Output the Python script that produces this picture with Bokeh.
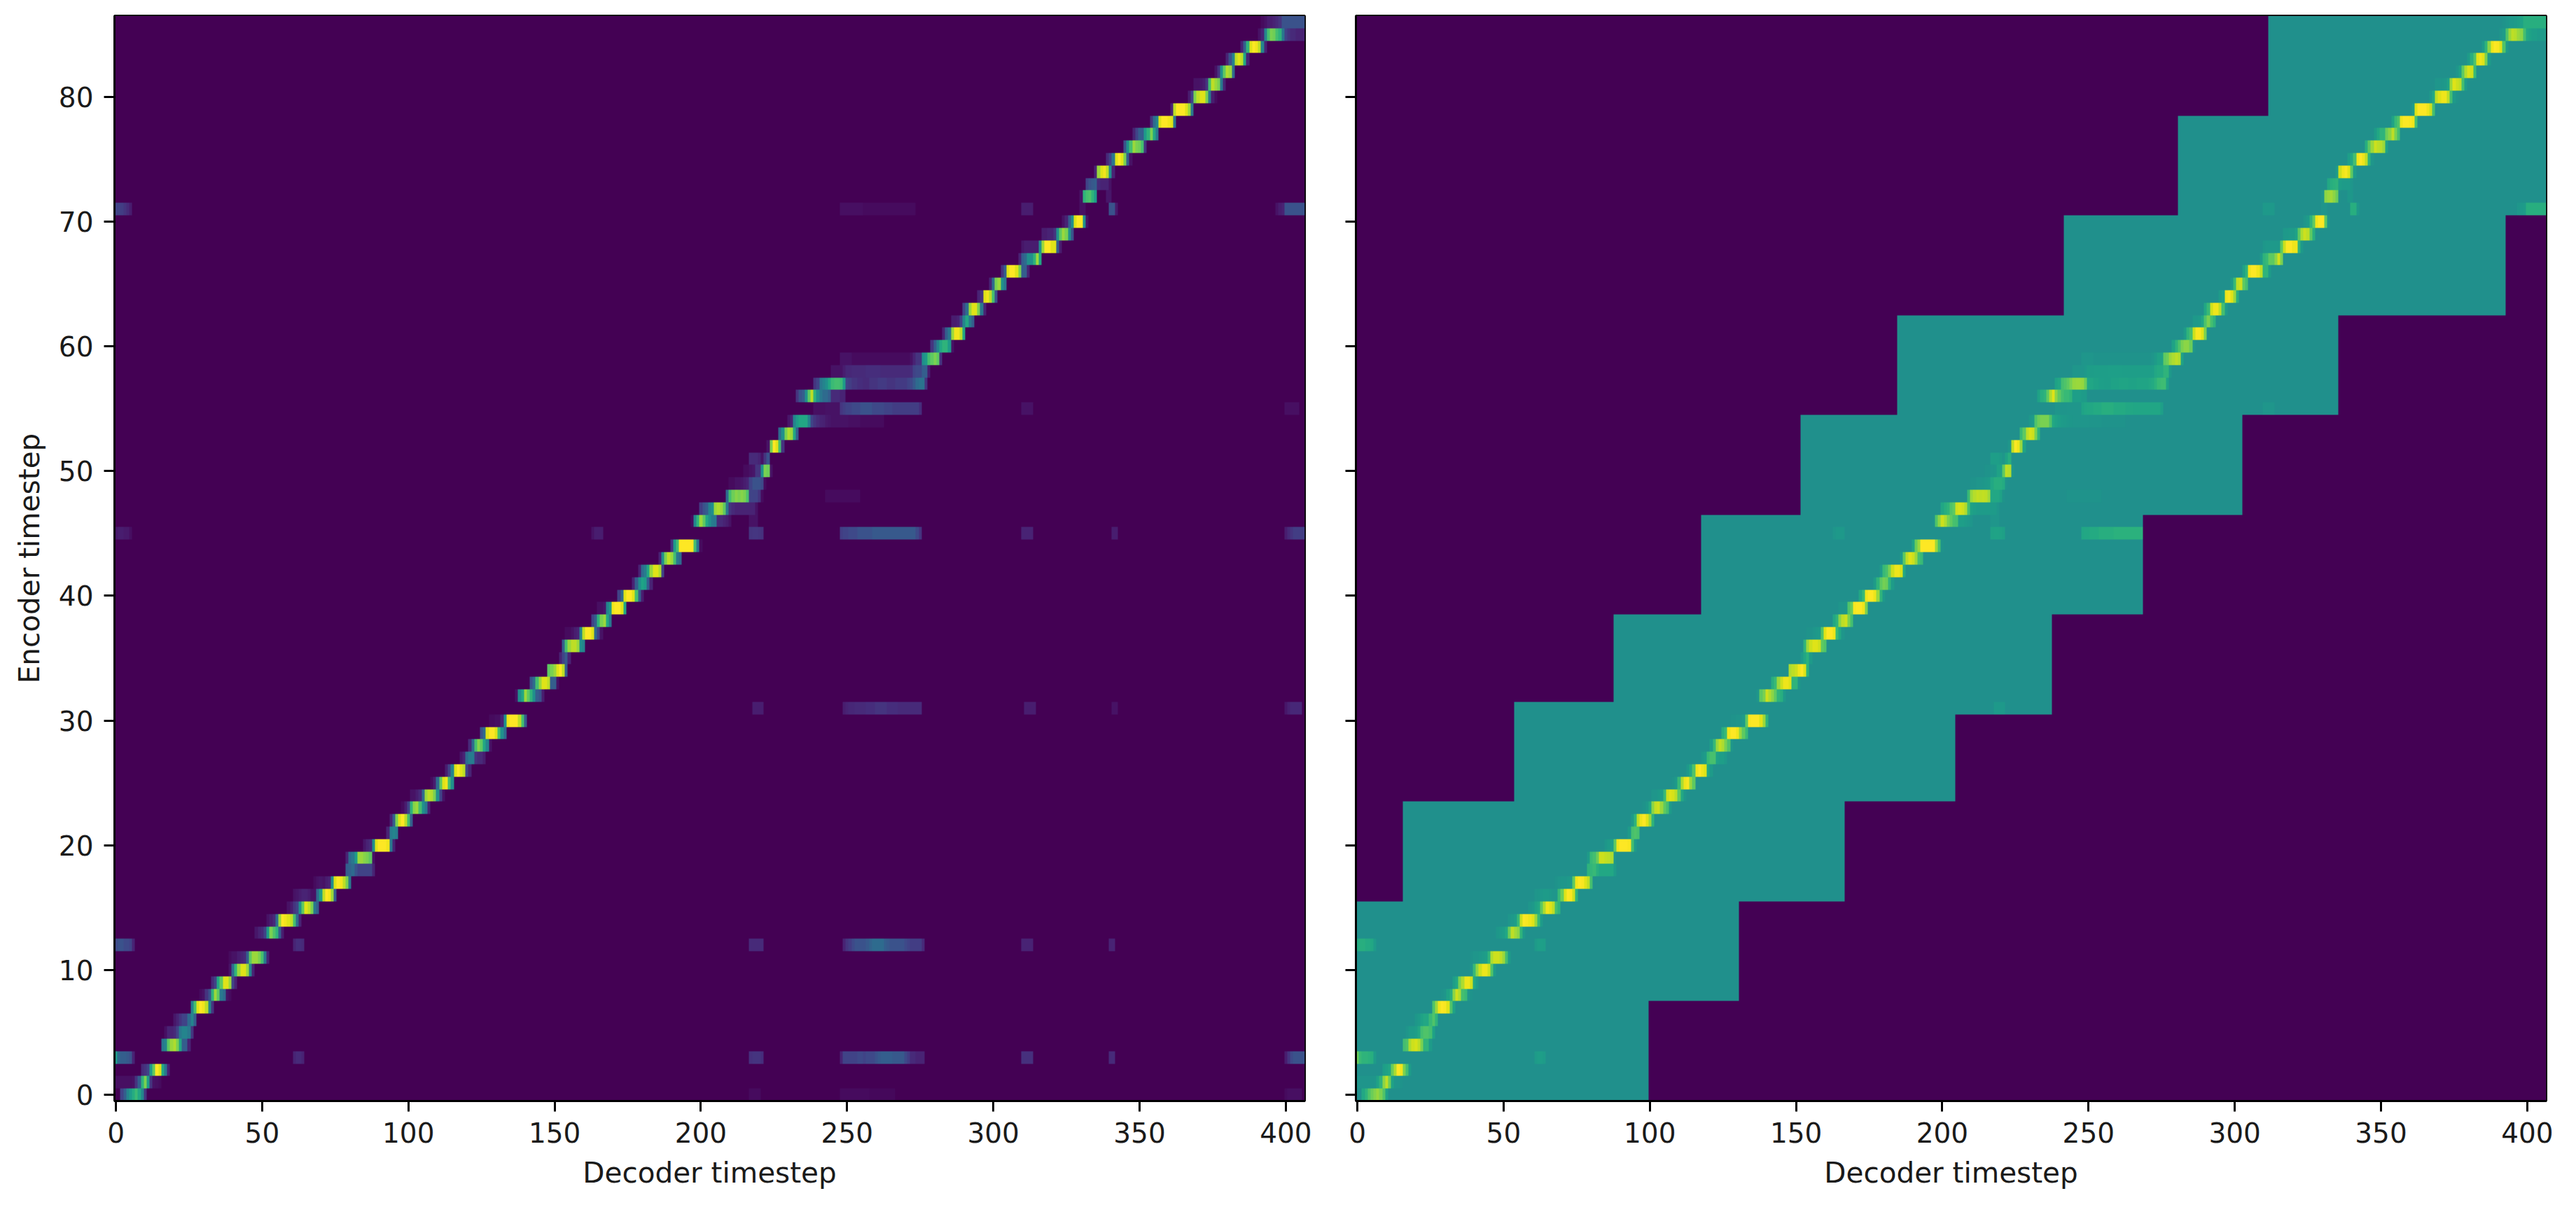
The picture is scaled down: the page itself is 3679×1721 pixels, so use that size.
import numpy as np
from bokeh.embed import file_html
from bokeh.layouts import row
from bokeh.models import LinearColorMapper, Range1d, FixedTicker
from bokeh.palettes import Viridis256
from bokeh.plotting import figure
from bokeh.resources import INLINE

x_axis_label_text = "Decoder timestep"
y_axis_label_text = "Encoder timestep"
x_ticks = [0, 50, 100, 150, 200, 250, 300, 350, 400]
y_ticks = [0, 10, 20, 30, 40, 50, 60, 70, 80]
decoder_steps = 407
encoder_steps = 87

# Attention path: encoder row, first decoder cell, attention weights read cell by cell
path_rows = list(range(0, 3)) + list(range(4, 12)) + list(range(13, 31)) + list(range(32, 45)) + list(range(46, 55)) + list(range(56, 71)) + list(range(72, 87))
path_starts = [2, 0, 9,
    16, 17, 20, 26, 29, 33, 39, 39,
    48, 52, 59, 61, 68, 79, 79, 85, 93, 94, 98, 101, 108, 113, 118, 121, 125, 128,
    137, 142, 148, 152, 153, 154, 163, 165, 172, 177, 179, 186, 190,
    197, 200, 209, 210, 215, 217, 223, 227, 230,
    233, 239, 245, 248, 279, 283, 286, 290, 295, 299, 303, 309, 310, 317, 324,
    330, 332, 335, 339, 345, 348, 354, 361, 367, 369, 376, 380, 385, 391, 392]
path_values = [
    [.2,.3,.45,.55,.62,.68,.6,.45,.15],
    [.04,.04,.04,.04,.04,.04,.05,.15,.3,.65,.8,.55,.15,.05,.04,.03],
    [.12,.15,.2,.55,.75,1,.95,.6,.4,.1],
    [.4,.45,.75,.85,.88,.8,.6,.3,.3,.1],
    [.04,.1,.1,.12,.2,.4,.45,.45,.4,.15],
    [.06,.1,.15,.2,.2,.35,.45,.3],
    [.45,.7,.95,1,.98,.9,.45,.15],
    [.03,.05,.15,.25,.65,.85,.75,.4,.35,.05,.03],
    [.12,.2,.6,.75,.95,.95,.85,.2,.1],
    [.05,.35,.65,.85,.95,.95,.85,.45,.1],
    [.03,.05,.05,.08,.1,.12,.3,.75,.85,.85,.8,.7,.4,.1],
    [.06,.1,.12,.2,.55,.8,.72,.65,.3,.08],
    [.05,.08,.12,.35,.85,1,.98,.95,.9,.7,.35,.1],
    [.05,.08,.15,.2,.5,.75,.95,.9,.8,.4,.3],
    [.05,.06,.08,.1,.1,.08,.05,.05,.35,.55,.9,1,.98,.85,.3],
    [.03,.05,.06,.05,.08,.1,.5,.95,1,.98,.9,.8,.4],
    [.3,.32,.35,.25,.2,.2,.2,.2,.2,.1],
    [.1,.35,.4,.55,.85,.85,.82,.8,.75,.05],
    [.06,.1,.12,.5,.95,1,1,1,.98,.4,.1],
    [.1,.42,.45,.42],
    [.1,.3,.8,.95,1,.9,.7,.3],
    [.03,.08,.2,.65,.82,.85,.7,.5,.4,.1],
    [.05,.05,.08,.12,.35,.85,.9,.88,.8,.5,.2,.05],
    [.03,.08,.35,.75,.95,.98,.7,.5],
    [.08,.2,.45,.95,1,.95,.9,.2,.1],
    [.06,.1,.35,.42,.42,.15,.12,.12,.08],
    [.12,.35,.7,.82,.75,.6,.45,.05],
    [.25,.35,.95,1,1,.95,.7,.5,.35],
    [.03,.03,.04,.04,.1,.5,.98,1,1,1,.9,.7,.3],
    [.05,.5,.6,.85,.75,.65,.5,.3,.25,.08],
    [.25,.35,.7,.85,.95,.95,.9,.3,.3,.05],
    [.75,.8,.85,.95,1,.9,.3],
    [.1,.2,.28,.1],
    [.3,.7,.85,.9,.9,.85,.5,.45],
    [.03,.03,.05,.08,.1,.45,.9,1,1,.95,.35,.2,.05],
    [.2,.3,.65,.8,.85,.6,.4],
    [.04,.04,.06,.45,.55,.98,1,1,.95,.6],
    [.2,.35,.95,1,1,.95,.7,.3,.08],
    [.1,.3,.5,.58,.55,.3,.1],
    [.1,.35,.42,.6,.85,.95,.95,.88,.2],
    [.1,.5,.8,.9,.85,.7,.4,.35],
    [.15,.55,.7,1,1,1,1,1,.7,.4,.03],
    [.03,.45,.65,.85,.75,.6,.5,.42,.4,.12,.12,.1,.08,.05],
    [.18,.25,.3,.45,.5,.85,.88,.85,.75,.4,.15,.12,.1,.1,.1,.1,.1,.1,.1,.05],
    [.35,.7,.78,.82,.8,.82,.8,.72,.2,.2,.2,.15,.03],
    [.03,.03,.05,.05,.06,.08,.1,.2,.25,.25,.25,.22,.03],
    [.03,.03,.05,.06,.15,.15,.5,.8,.78,.05],
    [.12,.12,.12,.1,.05,.15,.25],
    [.05,.8,1,.95,.7,.15],
    [.35,.5,.8,.88,.85,.6,.3],
    [.06,.1,.45,.55,.6,.6,.6,.45,.2,.15,.12,.1,.09,.07,.06,.05,.05,.05,.05,.05,.05,.04,.04,.04,.04,.03,.03,.03,.03,.03,.03,.03,.03],
    [.15,.25,.3,.5,.75,.9,.65,.5,.4,.35,.35,.3,.12,.12,.12,.1,.1],
    [.15,.2,.4,.45,.5,.6,.68,.7,.7,.68,.55,.2,.18,.15,.15,.13,.13,.12,.12,.15,.15,.15,.17,.17,.17,.15,.15,.15,.17,.17,.17,.17,.2,.22,.28,.35,.38,.38,.15],
    [.05,.05,.05,.05,.08,.11,.11,.12,.12,.12,.12,.12,.13,.13,.13,.13,.13,.12,.12,.12,.12,.12,.12,.12,.12,.12,.12,.13,.2,.22,.22,.3,.3,.08],
    [.05,.05,.05,.05,.03,.03,.03,.03,.03,.03,.03,.03,.03,.03,.03,.03,.03,.03,.03,.03,.03,.03,.03,.03,.05,.1,.15,.15,.5,.55,.7,.75,.8,.75,.15],
    [.15,.3,.45,.6,.65,.65,.55,.05],
    [.1,.3,.4,.85,.98,.98,.9,.6],
    [.08,.08,.1,.2,.45,.6,.4,.3],
    [.2,.35,.85,.95,.95,.8,.4,.1],
    [.1,.15,.95,.98,.9,.7,.25],
    [.1,.35,.8,.85,.5,.4],
    [.15,.3,.95,1,1,.95,.8,.3,.3,.1],
    [.1,.3,.35,.5,.5,.65,.85,.6],
    [.06,.08,.08,.08,.08,.08,.5,.85,1,1,.95,.95,.3,.08],
    [.08,.08,.1,.1,.15,.5,.75,.85,.8,.5,.25],
    [.05,.1,.3,.5,.95,1,1,.5,.05],
    [.05,.65,.7,.72,.65,.55],
    [.2,.25,.28,.3,.12,.1,.1,.1,.05],
    [.1,.85,.95,.98,.9,.5,.1],
    [.12,.2,.4,.95,1,.95,.8,.3,.05],
    [.25,.5,.7,.85,.8,.78,.7,.15],
    [.1,.2,.3,.3,.55,.65,.8,.6,.4],
    [.15,.35,.45,.95,1,1,.98,.95,.4],
    [.1,.9,1,1,1,.95,.85,.4],
    [.08,.2,.8,.9,.95,.95,.8,.4,.08,.03],
    [.05,.05,.06,.08,.15,.7,.9,.85,.8,.4,.1],
    [.05,.15,.5,.75,.88,.85,.35],
    [.1,.25,.45,.9,.95,.9,.6,.1],
    [.1,.3,.65,.95,1,.98,.9,.45,.1],
    [.05,.1,.45,.7,.8,.78,.7,.65,.4,.2,.15,.12,.12,.1,.1,.1],
    [.03,.05,.08,.08,.1,.12,.15,.25,.25,.25,.25,.25,.25,.25,.25],
]

# Stripes of weak attention on the silent encoder rows, plus stray faint patches
stripe_rows = [3, 3, 3, 3, 3, 3, 3,
               12, 12, 12, 12, 12, 12,
               31, 31, 31, 31, 31,
               45, 45, 45, 45, 45, 45, 45,
               55, 55, 55, 55,
               71, 71, 71, 71, 71, 71,
               0, 0, 0, 72, 46, 48]
stripe_starts = [0, 61, 217, 248, 310, 340, 400,
                 0, 61, 217, 249, 310, 340,
                 218, 249, 311, 341, 400,
                 0, 163, 217, 248, 310, 341, 400,
                 239, 248, 310, 400,
                 0, 248, 310, 330, 340, 397,
                 217, 248, 400, 339, 217, 243]
stripe_values = [
    [.55,.35,.3,.3,.28,.25,.1], [.1,.12,.12,.1], [.14,.15,.15,.15,.13],
    [.1,.2,.2,.2,.2,.2,.22,.22,.2,.22,.22,.22,.25,.28,.3,.3,.3,.3,.28,.28,.28,.28,.22,.18,.12,.12,.1,.1,.1], [.14,.14,.14,.14], [.12,.12], [.08,.15,.22,.25,.25,.25,.25],
    [.22,.25,.25,.22,.22,.2,.1], [.1,.13,.13,.12], [.12,.12,.12,.12,.12],
    [.1,.15,.18,.22,.25,.25,.25,.25,.28,.32,.35,.35,.35,.35,.3,.28,.25,.25,.25,.25,.25,.22,.2,.18,.18,.18,.18,.12], [.1,.1,.1,.1], [.1,.1],
    [.08,.08,.08,.08], [.08,.1,.11,.11,.12,.12,.12,.12,.13,.13,.13,.15,.15,.15,.15,.13,.13,.13,.13,.12,.12,.12,.12,.12,.12,.12,.12], [.08,.08,.08,.08], [.05,.05], [.06,.09,.11,.11,.11,.11],
    [.06,.08,.08,.07,.07,.04], [.05,.08,.08,.08], [.15,.16,.16,.15,.14],
    [.18,.2,.2,.22,.22,.22,.25,.25,.25,.25,.25,.28,.28,.28,.28,.28,.28,.28,.28,.28,.28,.28,.28,.28,.28,.28,.22,.15], [.1,.1,.1,.1], [.08,.08], [.08,.12,.15,.18,.18,.18,.18],
    [.04,.04,.04,.04,.05,.05,.05,.05,.05], [.16,.18,.2,.2,.22,.22,.22,.25,.25,.25,.25,.22,.22,.22,.22,.2,.2,.2,.18,.18,.18,.18,.18,.18,.18,.18,.18,.13], [.05,.05,.05,.05], [.04,.04,.04,.04,.04],
    [.2,.2,.18,.15,.12,.08], [.04,.04,.04,.04,.04,.04,.04,.04,.03,.03,.03,.03,.03,.03,.03,.03,.03,.03,.03,.03,.03,.03,.03,.03,.03,.03], [.08,.08,.08,.08], [.04,.04], [.25,.25,.07], [.05,.08,.1,.25,.25,.25,.25,.25,.25,.25],
    [.03,.03,.03,.03], [.03,.03,.03,.03,.03,.03,.03,.03,.03,.03,.02,.02,.02,.02,.02,.02,.02,.02,.02], [.03,.04,.04,.04,.04,.04],
    [.06,.06], [.05,.05,.05], [.03,.03,.03,.03,.03,.03,.03,.03,.03,.03,.03,.03],
]

# Guided-attention window: first decoder cell of each step and its top / bottom encoder row
window_top_from = [0, 16, 54, 88, 118, 152, 185, 242, 281, 312]
window_top_row = [15, 23, 31, 38, 46, 54, 62, 70, 78, 86]
window_bottom_from = [0, 100, 131, 167, 205, 238, 269, 303, 336, 393]
window_bottom_row = [0, 8, 16, 24, 31, 39, 47, 55, 63, 71]


def attention_matrix():
    m = np.zeros((encoder_steps, decoder_steps))
    for r, s, vals in list(zip(path_rows, path_starts, path_values)) + list(zip(stripe_rows, stripe_starts, stripe_values)):
        for i, v in enumerate(vals):
            if s + i < decoder_steps:
                m[r, s + i] = max(m[r, s + i], v)
    return m


def window_matrix():
    m = np.zeros((encoder_steps, decoder_steps))
    tops = np.array(window_top_row)[np.searchsorted(window_top_from, np.arange(decoder_steps), side="right") - 1]
    bots = np.array(window_bottom_row)[np.searchsorted(window_bottom_from, np.arange(decoder_steps), side="right") - 1]
    for c in range(decoder_steps):
        m[bots[c]:tops[c] + 1, c] = 1
    return m


attention = attention_matrix()
window = window_matrix()
guided = window * (0.5 + 0.5 * attention)

mapper = LinearColorMapper(palette=Viridis256, low=0, high=1)


def panel(matrix, left, right, width, show_y):
    p = figure(
        output_backend="svg", toolbar_location=None,
        frame_width=1700, frame_height=1550, width=width, height=1712,
        x_range=Range1d(-0.5, decoder_steps - 0.5), y_range=Range1d(-0.5, encoder_steps - 0.5),
        min_border_left=left, min_border_right=right, min_border_top=22, min_border_bottom=140,
        background_fill_color="#440154",
    )
    p.image(image=[matrix], x=-0.5, y=-0.5, dw=decoder_steps, dh=encoder_steps, color_mapper=mapper)
    p.grid.visible = False
    p.outline_line_color = "black"
    p.outline_line_width = 3
    for ax in (p.xaxis[0], p.yaxis[0]):
        ax.minor_tick_line_color = None
        ax.major_tick_in = 0
        ax.major_tick_out = 15
        ax.major_tick_line_width = 3
        ax.major_tick_line_color = "black"
        ax.axis_line_width = 3
        ax.axis_line_color = "black"
        ax.major_label_text_font = "DejaVu Sans"
        ax.major_label_text_font_size = "39px"
        ax.major_label_text_color = "#1a1a1a"
        ax.axis_label_text_font = "DejaVu Sans"
        ax.axis_label_text_font_size = "40.5px"
        ax.axis_label_text_font_style = "normal"
        ax.axis_label_text_color = "#1a1a1a"
        ax.major_label_standoff = 15
    p.xaxis[0].ticker = FixedTicker(ticks=x_ticks)
    p.yaxis[0].ticker = FixedTicker(ticks=y_ticks)
    p.xaxis[0].axis_label = x_axis_label_text
    p.xaxis[0].axis_label_standoff = 16
    if show_y:
        p.yaxis[0].axis_label = y_axis_label_text
        p.yaxis[0].axis_label_standoff = 15
    else:
        p.yaxis[0].major_label_overrides = {t: "" for t in y_ticks}
        p.yaxis[0].major_label_standoff = 0
    return p


left_panel = panel(attention, 163, 20, 1883, True)
right_panel = panel(guided, 53, 20, 1773, False)
layout = row(left_panel, right_panel, spacing=0)

open("out.html", "w").write(file_html(layout, INLINE))
